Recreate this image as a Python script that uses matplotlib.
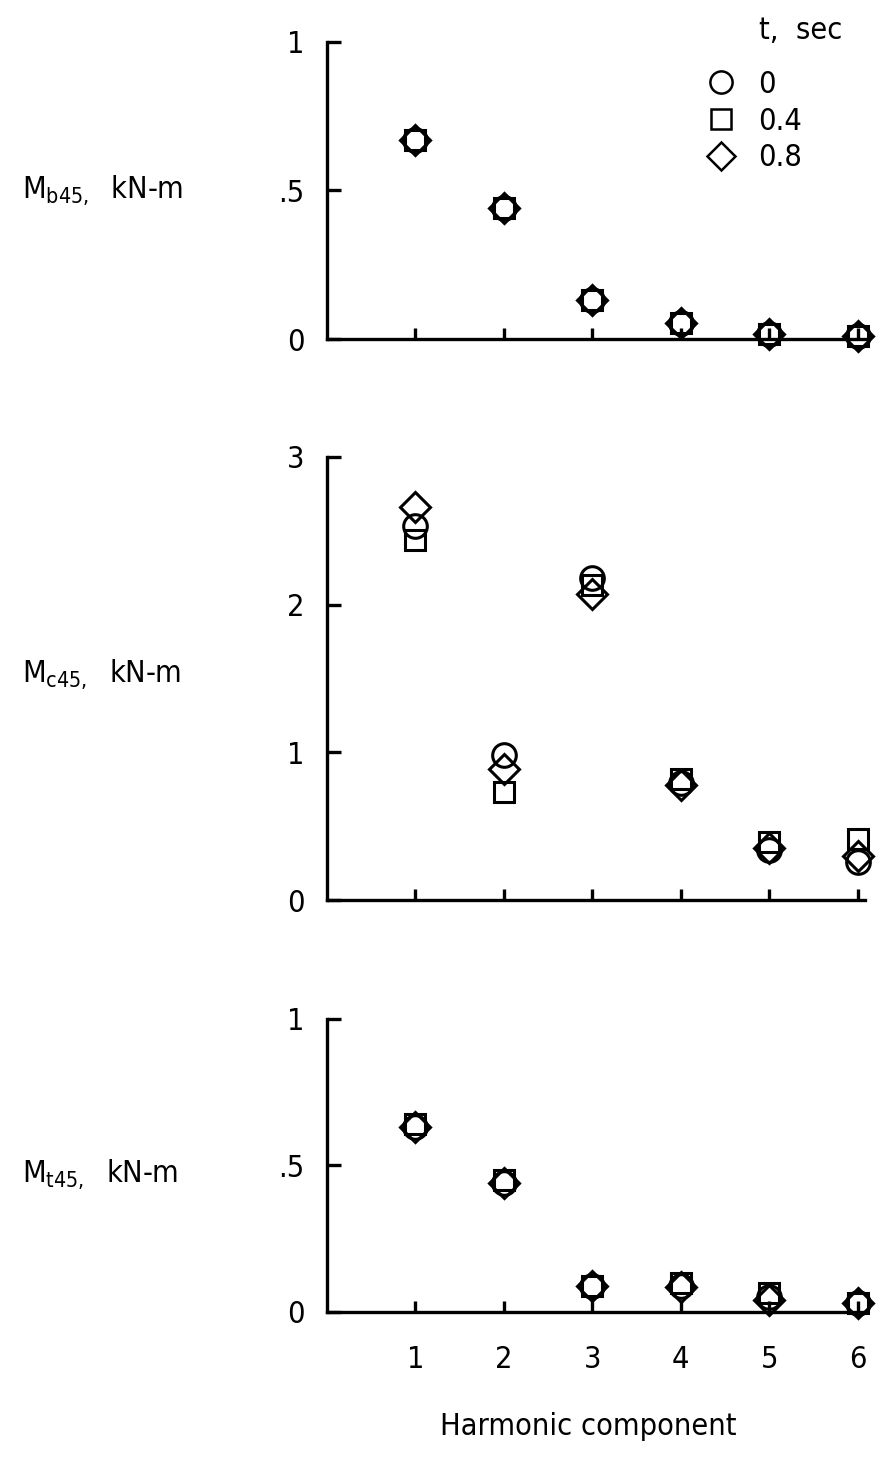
import matplotlib
matplotlib.use("Agg")
import matplotlib.pyplot as plt
from matplotlib.lines import Line2D

plt.rcParams["font.family"] = ["DejaVu Sans"]
plt.rcParams["font.stretch"] = "condensed"
plt.rcParams["mathtext.default"] = "regular"

harmonics = [1, 2, 3, 4, 5, 6]
times = ["0", "0.4", "0.8"]
markers = ["o", "s", "D"]

# M_b45, kN-m
mb_t0 = [0.67, 0.44, 0.13, 0.055, 0.017, 0.01]
mb_t04 = [0.67, 0.44, 0.13, 0.055, 0.017, 0.01]
mb_t08 = [0.67, 0.44, 0.13, 0.055, 0.017, 0.01]

# M_c45, kN-m
mc_t0 = [2.53, 0.98, 2.18, 0.79, 0.34, 0.26]
mc_t04 = [2.44, 0.73, 2.13, 0.82, 0.39, 0.41]
mc_t08 = [2.66, 0.89, 2.07, 0.78, 0.35, 0.30]

# M_t45, kN-m
mt_t0 = [0.63, 0.44, 0.09, 0.09, 0.05, 0.03]
mt_t04 = [0.64, 0.45, 0.09, 0.10, 0.065, 0.03]
mt_t08 = [0.63, 0.44, 0.09, 0.085, 0.04, 0.03]

panels = [
    ("$M_{b45,}$  kN-m", [mb_t0, mb_t04, mb_t08], [0, 0.5, 1], ["0", ".5", "1"], 1.0, 0.5),
    ("$M_{c45,}$  kN-m", [mc_t0, mc_t04, mc_t08], [0, 1, 2, 3], ["0", "1", "2", "3"], 3.0, 1.53),
    ("$M_{t45,}$  kN-m", [mt_t0, mt_t04, mt_t08], [0, 0.5, 1], ["0", ".5", "1"], 1.0, 0.47),
]

# axes boxes in figure fractions (left, bottom, width, height)
boxes = [
    (0.3716, 0.7689, 0.611, 0.2025),
    (0.3716, 0.3865, 0.611, 0.3020),
    (0.3716, 0.1057, 0.611, 0.1997),
]

sizes = {"o": 17, "s": 15, "D": 15}

fig = plt.figure(figsize=(8.8, 14.67), dpi=100)

axes = []
for (label, series, yt, ytl, ymax, ylab), box in zip(panels, boxes):
    ax = fig.add_axes(box)
    for vals, m in zip(series, markers):
        ax.plot(harmonics, vals, linestyle="none", marker=m, markersize=sizes[m],
                markerfacecolor="none", markeredgecolor="black",
                markeredgewidth=2.2, clip_on=False, zorder=3)
    ax.set_xlim(0, 6.08)
    ax.set_ylim(0, ymax)
    ax.spines["top"].set_visible(False)
    ax.spines["right"].set_visible(False)
    ax.spines["left"].set_linewidth(2.4)
    ax.spines["bottom"].set_linewidth(2.4)
    ax.set_xticks(harmonics)
    ax.set_yticks(yt)
    ax.set_yticklabels(ytl)
    ax.tick_params(axis="y", direction="in", length=10, width=2.4,
                   labelsize=22, pad=16)
    ax.tick_params(axis="x", direction="in", length=8, width=2.4,
                   labelsize=22, pad=24)
    ymid = box[1] + box[3] * ylab / ymax
    fig.text(0.025, ymid, label, fontsize=22, va="center", ha="left")
    axes.append(ax)

axes[0].tick_params(axis="x", labelbottom=False)
axes[1].tick_params(axis="x", labelbottom=False)

handles = [Line2D([], [], linestyle="none", marker=m, markersize=sizes[m] - 1,
                  markerfacecolor="none", markeredgecolor="black",
                  markeredgewidth=1.8)
           for m in markers]
leg = axes[0].legend(handles, times, loc="upper right",
                     bbox_to_anchor=(0.925, 0.9605), bbox_transform=fig.transFigure,
                     frameon=False, fontsize=22,
                     handlelength=1.0, handletextpad=0.7, labelspacing=0.25,
                     borderaxespad=0)

fig.text(0.957, 0.979, "t,  sec", fontsize=22, ha="right", va="center")

fig.text(0.668, 0.018, "Harmonic component", fontsize=22, ha="center", va="bottom")

fig.savefig("out.png", dpi=100)
